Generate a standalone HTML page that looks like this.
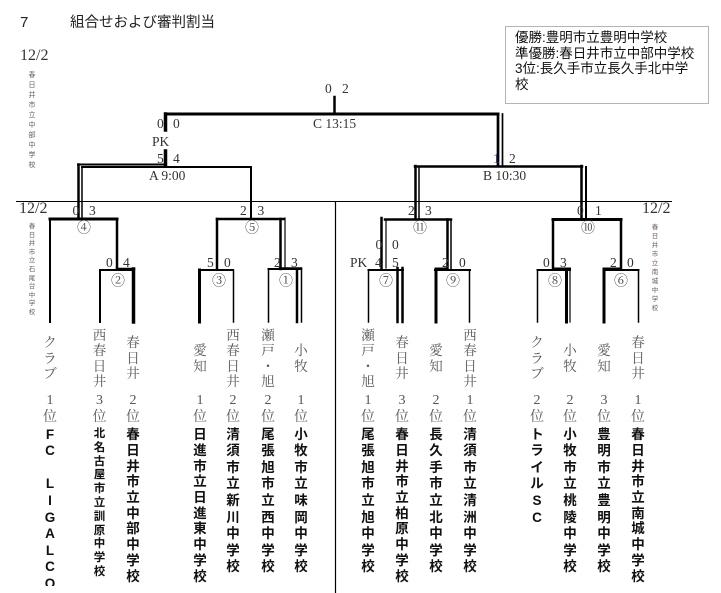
<!DOCTYPE html>
<html><head><meta charset="utf-8">
<style>
html,body{margin:0;padding:0;background:#fff;}
body{width:721px;height:593px;position:relative;overflow:hidden;}
.c{position:absolute;width:24px;text-align:center;}
.lab{font-family:"Noto Serif CJK SC","Noto Serif CJK JP",serif;font-size:13.5px;line-height:15.5px;color:#555;}
.rk{font-family:"Liberation Serif","Noto Serif CJK SC",serif;font-size:14px;line-height:16.5px;color:#555;top:393px;}
.sc{font-family:"Liberation Sans","Noto Sans CJK JP",sans-serif;font-weight:bold;font-size:13.5px;color:#111;}
.s9{line-height:16.6px;top:426.7px;}
.s10{line-height:15.7px;top:427.2px;}
.s11{line-height:13.8px;top:428px;font-size:11.5px;}
.tiny{position:absolute;width:14px;text-align:center;font-family:"Noto Sans CJK JP",sans-serif;color:#6b5d55;}
.clip{position:absolute;left:0;top:0;width:721px;height:586px;overflow:hidden;}
</style></head><body>

<svg width="721" height="593" style="position:absolute;left:0;top:0" xmlns="http://www.w3.org/2000/svg">
<g stroke="#000" fill="none" stroke-linecap="square">
<line x1="334.5" y1="97" x2="334.5" y2="113" stroke-width="2.5"/>
<line x1="166" y1="114" x2="498" y2="114" stroke-width="3"/>
<line x1="165.5" y1="114" x2="165.5" y2="130" stroke-width="3.5"/>
<line x1="165.5" y1="151" x2="165.5" y2="165" stroke-width="3.5"/>
<line x1="498" y1="114" x2="498" y2="165" stroke-width="2.7"/>
<line x1="502.5" y1="114" x2="502.5" y2="165" stroke-width="1.7"/>
<line x1="78" y1="164.5" x2="164" y2="164.5" stroke-width="2"/>
<line x1="82" y1="167" x2="251" y2="167" stroke-width="2"/>
<line x1="78.5" y1="164.5" x2="78.5" y2="218" stroke-width="2.5"/>
<line x1="82" y1="167" x2="82" y2="218" stroke-width="1.5"/>
<line x1="251" y1="167" x2="251" y2="218" stroke-width="2"/>
<line x1="415" y1="166.5" x2="582" y2="166.5" stroke-width="2.5"/>
<line x1="415.5" y1="166" x2="415.5" y2="218" stroke-width="2.5"/>
<line x1="419" y1="167" x2="419" y2="218" stroke-width="1.5"/>
<line x1="581.5" y1="166" x2="581.5" y2="218" stroke-width="2.5"/>
<line x1="586" y1="167" x2="586" y2="218" stroke-width="2"/>
<line x1="16" y1="201.5" x2="672" y2="201.5" stroke-width="1" stroke-linecap="butt"/>
<line x1="335.5" y1="201.5" x2="335.5" y2="593" stroke-width="1.2" stroke-linecap="butt"/>
<line x1="50" y1="219" x2="117" y2="219" stroke-width="3"/>
<line x1="50" y1="219" x2="50" y2="322" stroke-width="2"/>
<line x1="117" y1="219" x2="117" y2="269" stroke-width="2.5"/>
<line x1="100" y1="270" x2="134" y2="270" stroke-width="2"/>
<line x1="117" y1="269" x2="134" y2="269" stroke-width="2.5"/>
<line x1="100" y1="270" x2="100" y2="322" stroke-width="2"/>
<line x1="133.5" y1="269" x2="133.5" y2="322" stroke-width="3.5"/>
<line x1="217" y1="219" x2="284" y2="219" stroke-width="2.5"/>
<line x1="217" y1="219" x2="217" y2="269" stroke-width="2.5"/>
<line x1="280.5" y1="219" x2="280.5" y2="269" stroke-width="2.5"/>
<line x1="285" y1="218" x2="285" y2="269" stroke-width="1.2"/>
<line x1="199" y1="270" x2="233" y2="270" stroke-width="2"/>
<line x1="199.5" y1="270" x2="199.5" y2="322" stroke-width="3"/>
<line x1="233.5" y1="270" x2="233.5" y2="322" stroke-width="1.5"/>
<line x1="268.5" y1="269" x2="301" y2="269" stroke-width="2"/>
<line x1="280" y1="268.5" x2="301" y2="268.5" stroke-width="2.5"/>
<line x1="268.5" y1="269" x2="268.5" y2="322" stroke-width="1.5"/>
<line x1="297" y1="269" x2="297" y2="322" stroke-width="2.5"/>
<line x1="301.5" y1="269" x2="301.5" y2="322" stroke-width="1.5"/>
<line x1="385" y1="219.5" x2="451" y2="219.5" stroke-width="2.5"/>
<line x1="381.5" y1="218" x2="381.5" y2="268" stroke-width="2.5"/>
<line x1="386" y1="219.5" x2="386" y2="268" stroke-width="1.2"/>
<line x1="447.5" y1="219.5" x2="447.5" y2="269" stroke-width="2.5"/>
<line x1="451" y1="219.5" x2="451" y2="269" stroke-width="1.5"/>
<line x1="368.5" y1="270" x2="403" y2="270" stroke-width="2"/>
<line x1="368.5" y1="270" x2="368.5" y2="322" stroke-width="1.5"/>
<line x1="397.5" y1="268" x2="397.5" y2="322" stroke-width="2.5"/>
<line x1="402.5" y1="268" x2="402.5" y2="322" stroke-width="2.5"/>
<line x1="435" y1="270" x2="470" y2="270" stroke-width="2"/>
<line x1="436" y1="268.5" x2="447" y2="268.5" stroke-width="2"/>
<line x1="436" y1="269" x2="436" y2="322" stroke-width="3"/>
<line x1="469.5" y1="270" x2="469.5" y2="322" stroke-width="1.5"/>
<line x1="553" y1="219.5" x2="621" y2="219.5" stroke-width="3"/>
<line x1="553" y1="219.5" x2="553" y2="268" stroke-width="2.5"/>
<line x1="621" y1="219.5" x2="621" y2="268" stroke-width="2.5"/>
<line x1="537.5" y1="270" x2="570" y2="270" stroke-width="2"/>
<line x1="553" y1="268.5" x2="570" y2="268.5" stroke-width="2"/>
<line x1="537.5" y1="270" x2="537.5" y2="322" stroke-width="1.5"/>
<line x1="566.5" y1="269" x2="566.5" y2="322" stroke-width="3"/>
<line x1="570" y1="270" x2="570" y2="322" stroke-width="1.2"/>
<line x1="604" y1="270" x2="638.5" y2="270" stroke-width="2"/>
<line x1="604" y1="268.5" x2="621" y2="268.5" stroke-width="2"/>
<line x1="604" y1="269" x2="604" y2="322" stroke-width="3"/>
<line x1="638.5" y1="270" x2="638.5" y2="322" stroke-width="1.5"/>
</g>

<text x="20" y="27" font-family="Liberation Sans, sans-serif" font-size="15" fill="#222">7</text>
<text x="70" y="27" font-family="Liberation Sans, Noto Sans CJK JP, sans-serif" font-size="14.5" fill="#222">組合せおよび審判割当</text>
<g font-family="Liberation Serif, serif" font-size="16" fill="#333">
<text x="20" y="60">12/2</text>
<text x="19" y="213">12/2</text>
<text x="642" y="213">12/2</text>
</g>

<g font-family="Liberation Serif, serif" font-size="13.5" fill="#333">
<text x="325" y="93">0</text><text x="342" y="93">2</text>
<text x="157" y="128">0</text><text x="173" y="128">0</text>
<text x="313" y="128">C 13:15</text>
<text x="152" y="146">PK</text>
<text x="157" y="163">5</text><text x="173" y="163">4</text>
<text x="493" y="163" fill="#2a4a7a">1</text><text x="509" y="163">2</text>
<text x="149" y="180">A 9:00</text>
<text x="483" y="180">B 10:30</text>
<text x="72.5" y="215">0</text><text x="89" y="215">3</text>
<text x="240" y="215">2</text><text x="257.5" y="215">3</text>
<text x="408" y="215">2</text><text x="425" y="215">3</text>
<text x="577" y="215">0</text><text x="595" y="215">1</text>
<text x="375.5" y="249">0</text><text x="392" y="249">0</text>
<text x="106" y="267">0</text><text x="123" y="267">4</text>
<text x="207" y="267">5</text><text x="224" y="267">0</text>
<text x="274" y="267">2</text><text x="291" y="267">3</text>
<text x="350" y="267">PK</text>
<text x="375" y="267">4</text><text x="392" y="267">5</text>
<text x="442" y="267">2</text><text x="459" y="267">0</text>
<text x="543" y="267">0</text><text x="560" y="267">3</text>
<text x="610" y="267">2</text><text x="627" y="267">0</text>
</g>
<g font-family="Noto Serif CJK SC, Noto Sans CJK JP, serif" font-size="14" fill="#444" text-anchor="middle">
<text x="84" y="232.5">④</text>
<text x="252" y="232.5">⑤</text>
<text x="420" y="232.5">⑪</text>
<text x="588" y="232.5">⑩</text>
<text x="118" y="285.5">②</text>
<text x="219" y="285.5">③</text>
<text x="286" y="285.5">①</text>
<text x="386" y="285.5">⑦</text>
<text x="453" y="285.5">⑨</text>
<text x="555" y="285.5">⑧</text>
<text x="621" y="285.5">⑥</text>
</g>
</svg>

<div style="position:absolute;left:505px;top:26px;width:204px;height:78px;box-sizing:border-box;border:1px solid #b4b4b4;padding:3px 0 0 9px;font-family:'Liberation Sans','Noto Sans CJK JP',sans-serif;font-size:13.5px;line-height:15.5px;color:#111;">優勝:豊明市立豊明中学校<br>準優勝:春日井市立中部中学校<br>3位:長久手市立長久手北中学<br>校</div>

<div class="tiny" style="left:25px;top:70px;font-size:7px;line-height:10px;">春<br>日<br>井<br>市<br>立<br>中<br>部<br>中<br>学<br>校</div>
<div class="tiny" style="left:25px;top:221px;font-size:6.5px;line-height:8.6px;">春<br>日<br>井<br>市<br>立<br>石<br>尾<br>台<br>中<br>学<br>校</div>
<div class="tiny" style="left:648px;top:222px;font-size:6.5px;line-height:9px;">春<br>日<br>井<br>市<br>立<br>南<br>城<br>中<br>学<br>校</div>

<div class="clip">
<div class="c lab" style="left:38px;top:334.25px">ク<br>ラ<br>ブ</div>
<div class="c rk" style="left:38px">1<br>位</div>
<div class="c sc s9" style="left:38px;font-family:'Liberation Sans',sans-serif;">F<br>C<br>&nbsp;<br>L<br>I<br>G<br>A<br>L<br>C<br>O<br>S</div>
<div class="c lab" style="left:87.5px;top:326.5px">西<br>春<br>日<br>井</div>
<div class="c rk" style="left:87.5px">3<br>位</div>
<div class="c sc s11" style="left:87.5px">北<br>名<br>古<br>屋<br>市<br>立<br>訓<br>原<br>中<br>学<br>校</div>
<div class="c lab" style="left:121px;top:334.25px">春<br>日<br>井</div>
<div class="c rk" style="left:121px">2<br>位</div>
<div class="c sc s10" style="left:121px">春<br>日<br>井<br>市<br>立<br>中<br>部<br>中<br>学<br>校</div>
<div class="c lab" style="left:188px;top:342px">愛<br>知</div>
<div class="c rk" style="left:188px">1<br>位</div>
<div class="c sc s10" style="left:188px">日<br>進<br>市<br>立<br>日<br>進<br>東<br>中<br>学<br>校</div>
<div class="c lab" style="left:221px;top:326.5px">西<br>春<br>日<br>井</div>
<div class="c rk" style="left:221px">2<br>位</div>
<div class="c sc s9" style="left:221px">清<br>須<br>市<br>立<br>新<br>川<br>中<br>学<br>校</div>
<div class="c lab" style="left:256px;top:326.5px">瀬<br>戸<br>・<br>旭</div>
<div class="c rk" style="left:256px">2<br>位</div>
<div class="c sc s9" style="left:256px">尾<br>張<br>旭<br>市<br>立<br>西<br>中<br>学<br>校</div>
<div class="c lab" style="left:289px;top:342px">小<br>牧</div>
<div class="c rk" style="left:289px">1<br>位</div>
<div class="c sc s9" style="left:289px">小<br>牧<br>市<br>立<br>味<br>岡<br>中<br>学<br>校</div>
<div class="c lab" style="left:356px;top:326.5px">瀬<br>戸<br>・<br>旭</div>
<div class="c rk" style="left:356px">1<br>位</div>
<div class="c sc s9" style="left:356px">尾<br>張<br>旭<br>市<br>立<br>旭<br>中<br>学<br>校</div>
<div class="c lab" style="left:390px;top:334.25px">春<br>日<br>井</div>
<div class="c rk" style="left:390px">3<br>位</div>
<div class="c sc s10" style="left:390px">春<br>日<br>井<br>市<br>立<br>柏<br>原<br>中<br>学<br>校</div>
<div class="c lab" style="left:424px;top:342px">愛<br>知</div>
<div class="c rk" style="left:424px">2<br>位</div>
<div class="c sc s9" style="left:424px">長<br>久<br>手<br>市<br>立<br>北<br>中<br>学<br>校</div>
<div class="c lab" style="left:458px;top:326.5px">西<br>春<br>日<br>井</div>
<div class="c rk" style="left:458px">1<br>位</div>
<div class="c sc s9" style="left:458px">清<br>須<br>市<br>立<br>清<br>洲<br>中<br>学<br>校</div>
<div class="c lab" style="left:525px;top:334.25px">ク<br>ラ<br>ブ</div>
<div class="c rk" style="left:525px">2<br>位</div>
<div class="c sc s9" style="left:525px">ト<br>ラ<br>イ<br>ル<br>S<br>C</div>
<div class="c lab" style="left:558px;top:342px">小<br>牧</div>
<div class="c rk" style="left:558px">2<br>位</div>
<div class="c sc s9" style="left:558px">小<br>牧<br>市<br>立<br>桃<br>陵<br>中<br>学<br>校</div>
<div class="c lab" style="left:592px;top:342px">愛<br>知</div>
<div class="c rk" style="left:592px">3<br>位</div>
<div class="c sc s9" style="left:592px">豊<br>明<br>市<br>立<br>豊<br>明<br>中<br>学<br>校</div>
<div class="c lab" style="left:626px;top:334.25px">春<br>日<br>井</div>
<div class="c rk" style="left:626px">1<br>位</div>
<div class="c sc s10" style="left:626px">春<br>日<br>井<br>市<br>立<br>南<br>城<br>中<br>学<br>校</div>
</div>

</body></html>
